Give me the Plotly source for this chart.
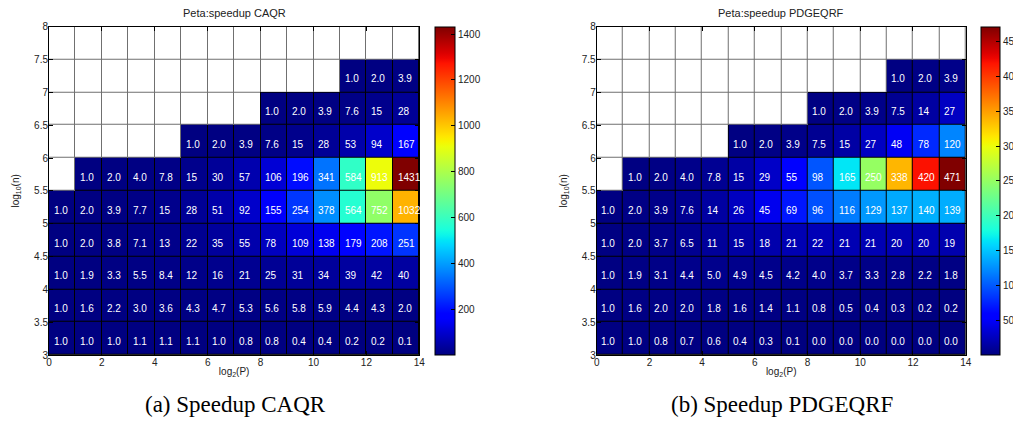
import numpy as np
import plotly.graph_objects as go

W, H = 1013, 440          # visible window
FIG_W = 1026              # figure slightly wider: colourbar labels run past the window edge as in the original

# ---------------- data ----------------
P_EDGES = list(range(0, 15))                       # log2(P) cell edges
N_EDGES = [3.0, 3.5, 4.0, 4.5, 5.0, 5.5, 6.0, 6.5, 7.0, 7.5, 8.0]  # log10(n) edges
X_TICKS = [0, 2, 4, 6, 8, 10, 12, 14]
Y_TICKS = [3, 3.5, 4, 4.5, 5, 5.5, 6, 6.5, 7, 7.5, 8]

N = None
# rows bottom (log10 n = 3..3.5) to top (7.5..8)
caqr = [
    [1.0, 1.0, 1.0, 1.1, 1.1, 1.1, 1.0, 0.8, 0.8, 0.4, 0.4, 0.2, 0.2, 0.1],
    [1.0, 1.6, 2.2, 3.0, 3.6, 4.3, 4.7, 5.3, 5.6, 5.8, 5.9, 4.4, 4.3, 2.0],
    [1.0, 1.9, 3.3, 5.5, 8.4, 12, 16, 21, 25, 31, 34, 39, 42, 40],
    [1.0, 2.0, 3.8, 7.1, 13, 22, 35, 55, 78, 109, 138, 179, 208, 251],
    [1.0, 2.0, 3.9, 7.7, 15, 28, 51, 92, 155, 254, 378, 564, 752, 1032],
    [N, 1.0, 2.0, 4.0, 7.8, 15, 30, 57, 106, 196, 341, 584, 913, 1431],
    [N, N, N, N, N, 1.0, 2.0, 3.9, 7.6, 15, 28, 53, 94, 167],
    [N, N, N, N, N, N, N, N, 1.0, 2.0, 3.9, 7.6, 15, 28],
    [N, N, N, N, N, N, N, N, N, N, N, 1.0, 2.0, 3.9],
    [N] * 14,
]
pdgeqrf = [
    [1.0, 1.0, 0.8, 0.7, 0.6, 0.4, 0.3, 0.1, 0.0, 0.0, 0.0, 0.0, 0.0, 0.0],
    [1.0, 1.6, 2.0, 2.0, 1.8, 1.6, 1.4, 1.1, 0.8, 0.5, 0.4, 0.3, 0.2, 0.2],
    [1.0, 1.9, 3.1, 4.4, 5.0, 4.9, 4.5, 4.2, 4.0, 3.7, 3.3, 2.8, 2.2, 1.8],
    [1.0, 2.0, 3.7, 6.5, 11, 15, 18, 21, 22, 21, 21, 20, 20, 19],
    [1.0, 2.0, 3.9, 7.6, 14, 26, 45, 69, 96, 116, 129, 137, 140, 139],
    [N, 1.0, 2.0, 4.0, 7.8, 15, 29, 55, 98, 165, 250, 338, 420, 471],
    [N, N, N, N, N, 1.0, 2.0, 3.9, 7.5, 15, 27, 48, 78, 120],
    [N, N, N, N, N, N, N, N, 1.0, 2.0, 3.9, 7.5, 14, 27],
    [N, N, N, N, N, N, N, N, N, N, N, 1.0, 2.0, 3.9],
    [N] * 14,
]
CB1_TICKS = [200, 400, 600, 800, 1000, 1200, 1400]
CB2_TICKS = [50, 100, 150, 200, 250, 300, 350, 400, 450]
TITLES = ["Peta:speedup CAQR", "Peta:speedup PDGEQRF"]
CAPTIONS = ["(a) Speedup CAQR", "(b) Speedup PDGEQRF"]

# ---------------- MATLAB jet colourscale ----------------
def jet_scale(n=64):
    t = np.linspace(0, 1, n)
    r = np.interp(t, [0, 0.35, 0.66, 0.89, 1], [0, 0, 1, 1, 0.5])
    g = np.interp(t, [0, 0.125, 0.375, 0.64, 0.91, 1], [0, 0, 1, 1, 0, 0])
    b = np.interp(t, [0, 0.11, 0.34, 0.65, 1], [0.5, 1, 1, 0, 0])
    return [[float(v), f"rgb({int(round(R*255))},{int(round(G*255))},{int(round(B*255))})"]
            for v, R, G, B in zip(t, r, g, b)]

JET = jet_scale()

def px_x(p):
    return p / FIG_W

def px_y(p):
    return 1 - p / H

TOP, BOT = 26.7, 355.0
XDOMS = [(49.0, 419.3), (596.7, 965.7)]
CBX = [435.0, 981.0]
CBT = [20, 19]

fig = go.Figure()
FONT = "Liberation Sans, Arial, Helvetica, sans-serif"

def fmt(v):
    return f"{v:.1f}" if v < 10 else f"{v:.0f}"

for k, (data, ticks) in enumerate([(caqr, CB1_TICKS), (pdgeqrf, CB2_TICKS)]):
    xa = "x" if k == 0 else "x2"
    ya = "y" if k == 0 else "y2"
    cax = "coloraxis" if k == 0 else "coloraxis2"
    mask_white = [[1 if v is None else None for v in row] for row in data]
    mask_black = [[1 if v is not None else None for v in row] for row in data]
    fig.add_trace(go.Heatmap(x=P_EDGES, y=N_EDGES, z=mask_white, xaxis=xa, yaxis=ya,
                             colorscale=[[0, "white"], [1, "white"]], showscale=False,
                             xgap=1, ygap=1, hoverinfo="skip"))
    fig.add_trace(go.Heatmap(x=P_EDGES, y=N_EDGES, z=mask_black, xaxis=xa, yaxis=ya,
                             colorscale=[[0, "black"], [1, "black"]], showscale=False,
                             hoverinfo="skip"))
    fig.add_trace(go.Heatmap(x=P_EDGES, y=N_EDGES, z=data, xaxis=xa, yaxis=ya,
                             coloraxis=cax, xgap=1, ygap=1))
    # cell labels
    for i, row in enumerate(data):
        yc = (N_EDGES[i] + N_EDGES[i + 1]) / 2
        for j, v in enumerate(row):
            if v is None:
                continue
            fig.add_annotation(x=P_EDGES[j] + 0.1, y=yc, xref=xa, yref=ya,
                               text=fmt(v), showarrow=False, xanchor="left",
                               yanchor="middle", yshift=-3,
                               font=dict(family=FONT, size=10, color="white"))
    vals = [v for row in data for v in row if v is not None]
    x0, x1 = XDOMS[k]
    axis_common = dict(showline=True, linecolor="black", linewidth=1, mirror="ticks",
                       ticks="inside", ticklen=4, tickcolor="black", showgrid=False,
                       zeroline=False, automargin=False,
                       tickfont=dict(family=FONT, size=10, color="#222"))
    fig.update_layout(**{
        ("xaxis" if k == 0 else "xaxis2"): dict(
            domain=[px_x(x0), px_x(x1)], range=[0, 14], tickvals=X_TICKS,
            anchor=ya, ticklabelstandoff=-2,
            title=dict(text="log<sub>2</sub>(P)", standoff=0,
                       font=dict(family=FONT, size=10, color="#222")),
            **axis_common),
        ("yaxis" if k == 0 else "yaxis2"): dict(
            domain=[px_y(BOT), px_y(TOP)], range=[3, 8], tickvals=Y_TICKS,
            anchor=xa, ticklabelstandoff=-2,
            title=dict(text="log<sub>10</sub>(n)", standoff=12,
                       font=dict(family=FONT, size=10, color="#222")),
            **axis_common),
        cax: dict(colorscale=JET, cmin=min(vals), cmax=max(vals),
                  colorbar=dict(x=px_x(CBX[k]), xanchor="left", xref="paper",
                                y=px_y(BOT), yanchor="bottom", len=(BOT - TOP) / H,
                                lenmode="fraction", thickness=CBT[k], thicknessmode="pixels",
                                outlinewidth=1, outlinecolor="black", xpad=0, ypad=0,
                                ticks="inside", ticklen=4, tickcolor="black",
                                tickvals=ticks,
                                tickfont=dict(family=FONT, size=10, color="#222"))),
    })
    fig.add_annotation(x=px_x((x0 + x1) / 2), y=px_y(13), xref="paper", yref="paper",
                       text=TITLES[k], showarrow=False, xanchor="center", yanchor="middle",
                       font=dict(family=FONT, size=11, color="#222"))
    fig.add_annotation(x=px_x((x0 + x1) / 2 + 1), y=px_y(404), xref="paper", yref="paper",
                       text=CAPTIONS[k], showarrow=False, xanchor="center", yanchor="middle",
                       font=dict(family="Liberation Serif, DejaVu Serif, serif", size=23,
                                 color="black"))

fig.update_layout(width=FIG_W, height=H, margin=dict(l=0, r=0, t=0, b=0),
                  paper_bgcolor="white", plot_bgcolor="#707070", showlegend=False)

fig.write_html("out.html", config={"displayModeBar": False},
               post_script="document.body.style.margin='0';document.body.style.overflow='hidden';")
